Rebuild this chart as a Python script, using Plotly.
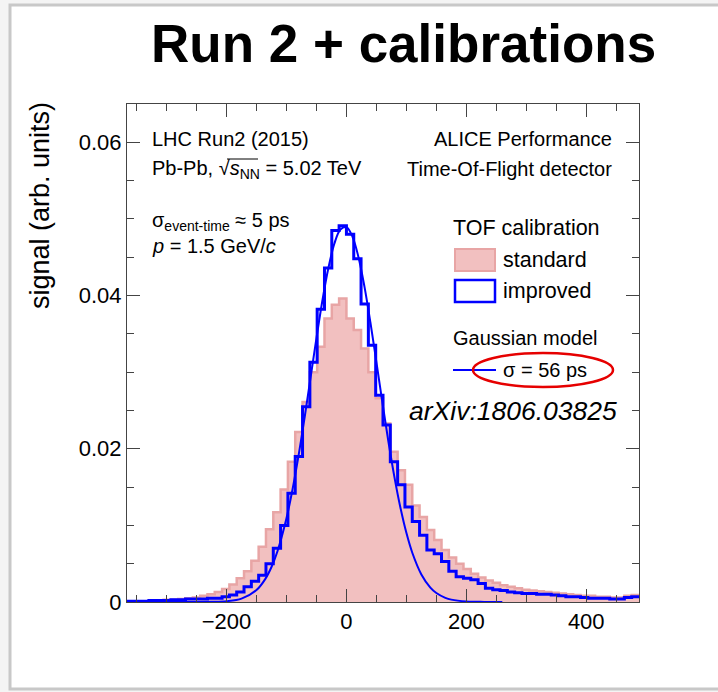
import numpy as np
import plotly.graph_objects as go

# ---------------- data ----------------
BIN_LO = -366.0
BIN_WIDTH = 12.2

standard = [
    0.0001, 0.0001, 0.0001, 0.0002, 0.0002, 0.0003, 0.0003, 0.0004, 0.0005, 0.0006,
    0.0008, 0.0010, 0.0013, 0.0017, 0.0023, 0.0031, 0.0040, 0.0054, 0.0072, 0.0095,
    0.0117, 0.0147, 0.0183, 0.0222, 0.0261, 0.0300, 0.0333, 0.0370, 0.0388, 0.0396,
    0.0370, 0.0355, 0.0331, 0.0300, 0.0266, 0.0233, 0.0196, 0.0172, 0.0153, 0.0126,
    0.0111, 0.0094, 0.0081, 0.0068, 0.0058, 0.0050, 0.0043, 0.0037, 0.0032, 0.0028,
    0.0025, 0.0022, 0.0020, 0.0018, 0.0016, 0.0015, 0.0014, 0.0013, 0.0012, 0.0011,
    0.0010, 0.0009, 0.0008, 0.0008, 0.0007, 0.0007, 0.0006, 0.0006, 0.0008, 0.0009,
]

improved = [
    0.0001, 0.0001, 0.0001, 0.0002, 0.0002, 0.0002, 0.0003, 0.0003, 0.0004, 0.0004,
    0.0004, 0.0005, 0.0005, 0.0007, 0.0009, 0.0013, 0.0020, 0.0027, 0.0035, 0.0050,
    0.0070, 0.0100, 0.0142, 0.0190, 0.0255, 0.0313, 0.0382, 0.0436, 0.0485, 0.0491,
    0.0480, 0.0448, 0.0389, 0.0335, 0.0270, 0.0231, 0.0183, 0.0153, 0.0124, 0.0105,
    0.0087, 0.0068, 0.0063, 0.0053, 0.0040, 0.0033, 0.0031, 0.0029, 0.0024, 0.0018,
    0.0016, 0.0015, 0.0013, 0.0012, 0.0011, 0.0011, 0.0010, 0.0010, 0.0009, 0.0008,
    0.0007, 0.0007, 0.0006, 0.0005, 0.0005, 0.0005, 0.0004, 0.0004, 0.0006, 0.0007,
]

GAUSS_X = [-367, -300, -250, -225, -200, -175, -150, -135, -125, -115, -100, -90, -80,
           -70, -60, -50, -40, -30, -20, -10, 0, 10, 20, 30, 40, 50, 60, 70, 80, 90,
           100, 110, 125, 140, 150, 165, 175, 200, 230, 260]
GAUSS_Y = [0.0, 0.0, 0.0, 0.00002, 0.0001, 0.00044, 0.00156, 0.00305, 0.00457, 0.00663,
           0.01093, 0.01466, 0.01904, 0.02395, 0.02919, 0.03445, 0.03939, 0.04362, 0.04680,
           0.04862, 0.04893, 0.04770, 0.04504, 0.04119, 0.03649, 0.03131, 0.02602, 0.02095,
           0.01634, 0.01234, 0.00903, 0.0064, 0.0036, 0.00188, 0.00117, 0.00054, 0.00031,
           0.00007, 0.00001, 0.0]

X_RANGE = [-366, 488]
Y_RANGE = [0, 0.065]

# ---------------- geometry helpers ----------------
W, H = 718, 692
L, R, T, B = 127, 639, 104, 602


def pxx(x):
    return (x - L) / (R - L)


def pxy(y):
    return (B - y) / (B - T)


FONT = "Liberation Sans, Arial, Helvetica, sans-serif"

n = len(standard)
edges = BIN_LO + BIN_WIDTH * np.arange(n + 1)
x_steps = list(edges)
std_steps = standard + [standard[-1]]
imp_steps = improved + [improved[-1]]

fig = go.Figure()
fig.add_trace(go.Scatter(
    x=x_steps, y=std_steps, mode="lines", line_shape="hv",
    line=dict(color="rgb(232,165,165)", width=2.5),
    fill="tozeroy", fillcolor="rgb(242,192,192)", showlegend=False, hoverinfo="skip"))
fig.add_trace(go.Scatter(
    x=x_steps, y=imp_steps, mode="lines", line_shape="hv",
    line=dict(color="rgb(0,0,255)", width=3), showlegend=False, hoverinfo="skip"))
fig.add_trace(go.Scatter(
    x=GAUSS_X, y=GAUSS_Y, mode="lines", line_shape="spline",
    line=dict(color="rgb(0,0,255)", width=2), showlegend=False, hoverinfo="skip"))

axcol = "#444444"
common = dict(showgrid=False, zeroline=False, showline=True, linecolor=axcol, linewidth=1,
              mirror="allticks", ticks="inside", tickcolor=axcol, tickwidth=1, ticklen=13,
              tickfont=dict(family=FONT, size=22, color="black"))
fig.update_xaxes(range=X_RANGE, tickmode="linear", tick0=0, dtick=200,
                 minor=dict(ticks="inside", dtick=50, tick0=0, ticklen=7, tickcolor=axcol),
                 **common)
fig.update_yaxes(range=Y_RANGE, tickmode="linear", tick0=0, dtick=0.02,
                 minor=dict(ticks="inside", dtick=0.005, tick0=0, ticklen=7, tickcolor=axcol),
                 **common)

shapes = [
    # slide frame
    dict(type="rect", xref="paper", yref="paper", x0=pxx(10), x1=pxx(730), y0=pxy(689), y1=pxy(5),
         line=dict(color="#c8c8c8", width=3), fillcolor="white", layer="below"),
    # legend boxes
    dict(type="rect", xref="paper", yref="paper", x0=pxx(455), x1=pxx(495), y0=pxy(271), y1=pxy(249),
         line=dict(color="rgb(232,165,165)", width=2), fillcolor="rgb(242,192,192)"),
    dict(type="rect", xref="paper", yref="paper", x0=pxx(455), x1=pxx(495), y0=pxy(302), y1=pxy(280),
         line=dict(color="rgb(0,0,255)", width=2.5), fillcolor="white"),
    dict(type="line", xref="paper", yref="paper", x0=pxx(453), x1=pxx(496), y0=pxy(370), y1=pxy(370),
         line=dict(color="rgb(0,0,255)", width=2)),
    # red ellipse
    dict(type="circle", xref="paper", yref="paper", x0=pxx(473), x1=pxx(613), y0=pxy(387), y1=pxy(353),
         line=dict(color="rgb(230,0,0)", width=2.5)),
    # overline of the square root
    dict(type="line", xref="paper", yref="paper", x0=pxx(227), x1=pxx(258), y0=pxy(159), y1=pxy(159),
         line=dict(color="black", width=1)),
]

ann = []


def text(x, y, s, size, xanchor="left", **kw):
    ann.append(dict(xref="paper", yref="paper", x=pxx(x), y=pxy(y), text=s, showarrow=False,
                    xanchor=xanchor, yanchor="middle",
                    font=dict(family=kw.pop("family", FONT), size=size, color="black"), **kw))


text(403, 43, "<b>Run 2 + calibrations</b>", 53, xanchor="center")
text(40, 206, "signal (arb. units)", 27, xanchor="center", textangle=-90)
text(150, 139, "LHC Run2 (2015)", 20)
text(150, 169, "Pb-Pb, √<i>s</i><sub>NN</sub> = 5.02 TeV", 20)
text(150, 221, "σ<sub>event-time</sub> ≈ 5 ps", 20)
text(150, 246, "<i>p</i> = 1.5 GeV/<i>c</i>", 20)
text(614, 139, "ALICE Performance", 20, xanchor="right")
text(614, 169, "Time-Of-Flight detector", 20, xanchor="right")
text(451, 228, "TOF calibration", 21.5)
text(501, 260, "standard", 21.5)
text(501, 291, "improved", 21.5)
text(451, 338, "Gaussian model", 20)
text(501, 370, "σ = 56 ps", 20)
text(407, 411, "<i>arXiv:1806.03825</i>", 26.5)

fig.update_layout(
    width=W, height=H, autosize=False,
    margin=dict(l=L, r=W - R, t=T, b=H - B, pad=0),
    paper_bgcolor="#f4f4f4", plot_bgcolor="rgba(0,0,0,0)",
    shapes=shapes, annotations=ann, showlegend=False,
    font=dict(family=FONT),
)

fig.write_html("out.html")
